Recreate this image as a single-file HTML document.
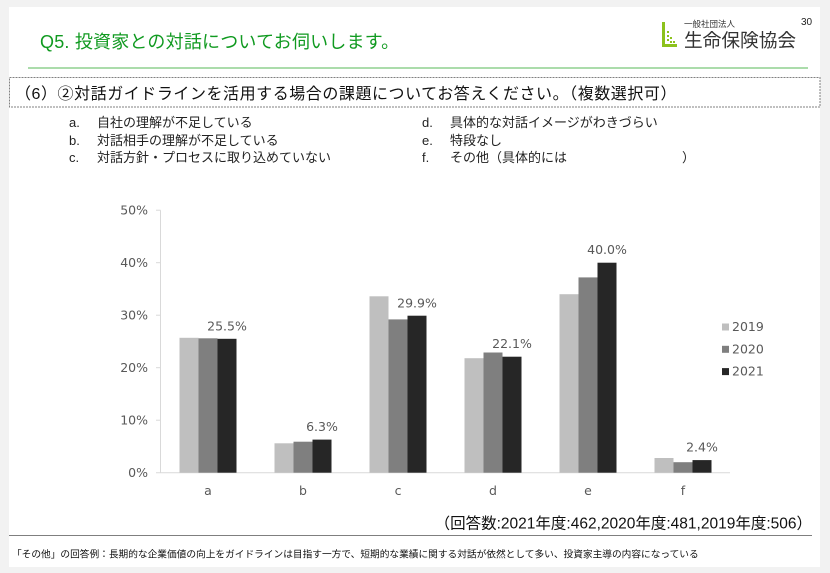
<!DOCTYPE html>
<html>
<head>
<meta charset="utf-8">
<style>
html,body{margin:0;padding:0;background:#f2f2f2;}
svg{display:block;}
.jp{font-family:"Liberation Sans","Noto Sans CJK JP",sans-serif;}
.ch{font-family:"DejaVu Sans","Liberation Sans",sans-serif;font-size:12.5px;fill:#595959;}
</style>
</head>
<body>
<svg width="830" height="573" viewBox="0 0 830 573" xmlns="http://www.w3.org/2000/svg">
  <rect x="0" y="0" width="830" height="573" fill="#f2f2f2"/>
  <rect x="9" y="7" width="811" height="560" fill="#ffffff"/>

  <!-- Title -->
  <text class="jp" x="40" y="48" font-size="18" fill="#109a20" letter-spacing="0.2">Q5. 投資家との対話についてお伺いします。</text>
  <line x1="28" y1="68" x2="808" y2="68" stroke="#8fd18f" stroke-width="1.5"/>

  <!-- Logo -->
  <g fill="#8cc21c">
    <rect x="662" y="22" width="3" height="25"/>
    <rect x="665" y="44" width="12" height="3"/>
    <rect x="667" y="31" width="2" height="2"/>
    <rect x="667" y="35" width="2" height="2"/>
    <rect x="667" y="39" width="2" height="2"/>
    <rect x="670" y="37" width="2" height="2"/>
    <rect x="670" y="41" width="2" height="2"/>
    <rect x="673" y="41" width="2" height="2"/>
  </g>
  <text class="jp" x="684" y="27" font-size="8.5" fill="#333">一般社団法人</text>
  <text class="jp" x="684" y="47" font-size="18.7" fill="#333">生命保険協会</text>
  <text class="jp" x="801" y="25" font-size="10" fill="#222">30</text>

  <!-- Question box -->
  <rect x="9.5" y="77.5" width="810.5" height="29.5" fill="none" stroke="#808080" stroke-width="1" stroke-dasharray="2,1"/>
  <text class="jp" x="15" y="99" font-size="16" fill="#111" letter-spacing="0.55">（6）②対話ガイドラインを活用する場合の課題についてお答えください。（複数選択可）</text>

  <!-- Options -->
  <g class="jp" font-size="13" fill="#222">
    <text x="69" y="126.8">a.</text><text x="97" y="126.8">自社の理解が不足している</text>
    <text x="69" y="144.8">b.</text><text x="97" y="144.8">対話相手の理解が不足している</text>
    <text x="69" y="161.8">c.</text><text x="97" y="161.8">対話方針・プロセスに取り込めていない</text>
    <text x="422" y="126.8">d.</text><text x="450" y="126.8">具体的な対話イメージがわきづらい</text>
    <text x="422" y="144.8">e.</text><text x="450" y="144.8">特段なし</text>
    <text x="422" y="161.8">f.</text><text x="450" y="161.8">その他（具体的には</text><text x="682" y="161.8">）</text>
  </g>

  <!-- Axes -->
  <g stroke="#d9d9d9" stroke-width="1">
    <line x1="160.5" y1="210.2" x2="160.5" y2="472.7"/>
    <line x1="156" y1="472.7" x2="730" y2="472.7"/>
    <line x1="156" y1="210.2" x2="160.5" y2="210.2"/>
    <line x1="156" y1="262.7" x2="160.5" y2="262.7"/>
    <line x1="156" y1="315.2" x2="160.5" y2="315.2"/>
    <line x1="156" y1="367.7" x2="160.5" y2="367.7"/>
    <line x1="156" y1="420.2" x2="160.5" y2="420.2"/>
  </g>
  <g class="ch" text-anchor="end">
    <text x="148" y="214.7">50%</text>
    <text x="148" y="267.2">40%</text>
    <text x="148" y="319.7">30%</text>
    <text x="148" y="372.2">20%</text>
    <text x="148" y="424.7">10%</text>
    <text x="148" y="477.2">0%</text>
  </g>

  <!-- Bars -->
  <g fill="#bfbfbf">
    <rect x="179.5" y="337.8" width="19" height="134.9"/>
    <rect x="274.5" y="443.3" width="19" height="29.4"/>
    <rect x="369.5" y="296.3" width="19" height="176.4"/>
    <rect x="464.5" y="358.2" width="19" height="114.5"/>
    <rect x="559.5" y="294.2" width="19" height="178.5"/>
    <rect x="654.5" y="458" width="19" height="14.7"/>
  </g>
  <g fill="#7f7f7f">
    <rect x="198.5" y="338.3" width="19" height="134.4"/>
    <rect x="293.5" y="441.7" width="19" height="31"/>
    <rect x="388.5" y="319.4" width="19" height="153.3"/>
    <rect x="483.5" y="352.5" width="19" height="120.2"/>
    <rect x="578.5" y="277.4" width="19" height="195.3"/>
    <rect x="673.5" y="462.2" width="19" height="10.5"/>
  </g>
  <g fill="#262626">
    <rect x="217.5" y="338.8" width="19" height="133.9"/>
    <rect x="312.5" y="439.6" width="19" height="33.1"/>
    <rect x="407.5" y="315.7" width="19" height="157"/>
    <rect x="502.5" y="356.7" width="19" height="116"/>
    <rect x="597.5" y="262.7" width="19" height="210"/>
    <rect x="692.5" y="460.1" width="19" height="12.6"/>
  </g>

  <!-- Data labels -->
  <g class="ch" text-anchor="middle">
    <text x="227" y="330.3">25.5%</text>
    <text x="322" y="431">6.3%</text>
    <text x="417" y="307.7">29.9%</text>
    <text x="512" y="348.2">22.1%</text>
    <text x="607" y="254.2">40.0%</text>
    <text x="702" y="451.6">2.4%</text>
  </g>

  <!-- X labels -->
  <g class="ch" text-anchor="middle">
    <text x="208" y="495">a</text>
    <text x="303" y="495">b</text>
    <text x="398" y="495">c</text>
    <text x="493" y="495">d</text>
    <text x="588" y="495">e</text>
    <text x="683" y="495">f</text>
  </g>

  <!-- Legend -->
  <rect x="722" y="323.5" width="7" height="7" fill="#bfbfbf"/>
  <rect x="722" y="345.8" width="7" height="7" fill="#7f7f7f"/>
  <rect x="722" y="368.1" width="7" height="7" fill="#262626"/>
  <g class="ch">
    <text x="732" y="331">2019</text>
    <text x="732" y="353.3">2020</text>
    <text x="732" y="375.6">2021</text>
  </g>

  <!-- Footer -->
  <text class="jp" x="812" y="528.5" font-size="15.5" fill="#111" text-anchor="end">（回答数:2021年度:462,2020年度:481,2019年度:506）</text>
  <line x1="9" y1="535.5" x2="812" y2="535.5" stroke="#7f7f7f" stroke-width="1"/>
  <text class="jp" x="12" y="557.5" font-size="9.7" fill="#111">「その他」の回答例：長期的な企業価値の向上をガイドラインは目指す一方で、短期的な業績に関する対話が依然として多い、投資家主導の内容になっている</text>
</svg>
</body>
</html>
